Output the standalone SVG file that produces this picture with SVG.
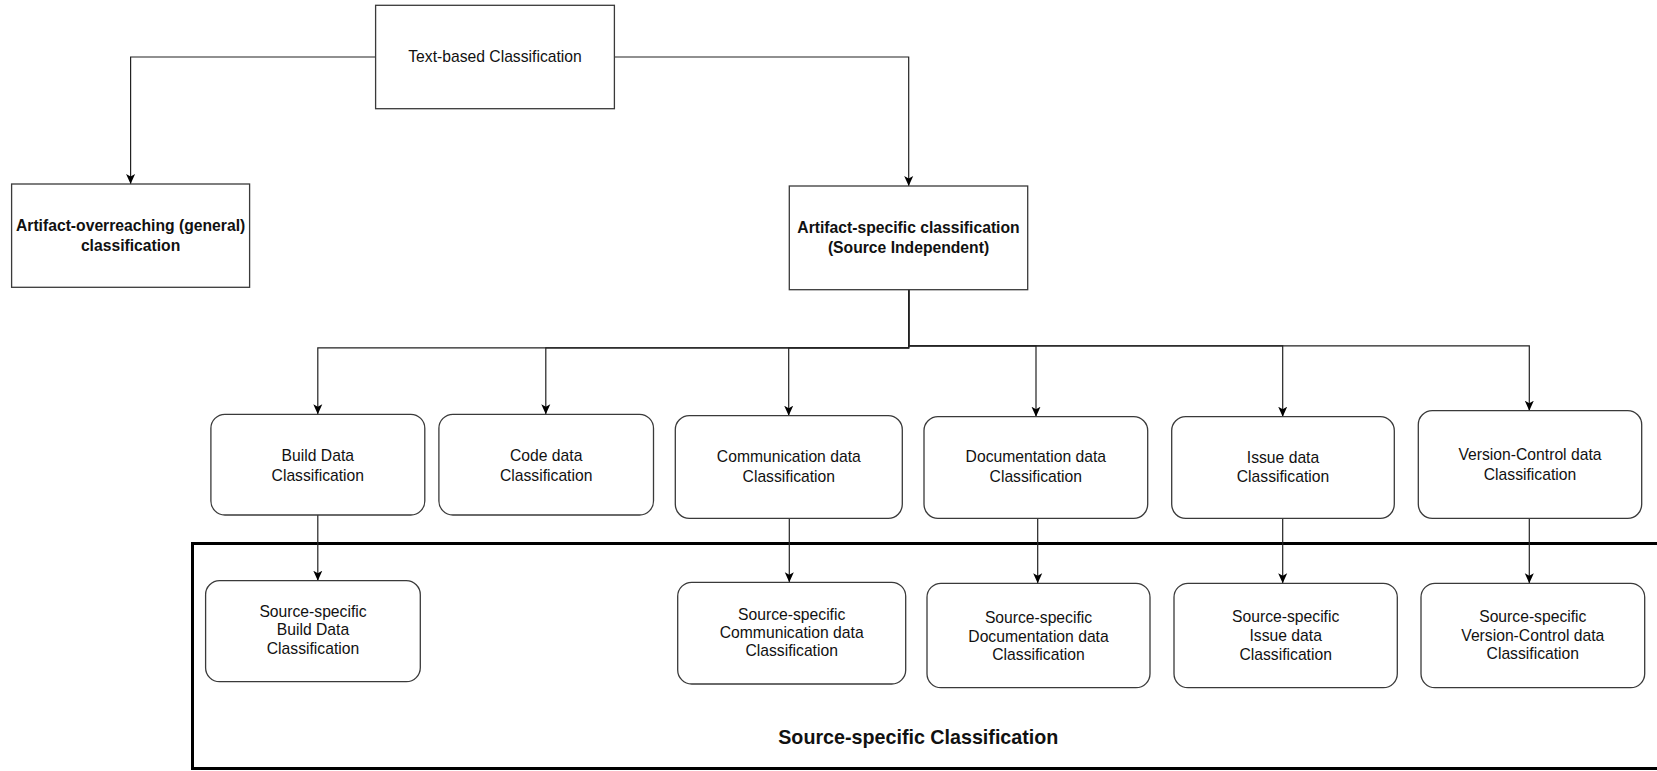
<svg xmlns="http://www.w3.org/2000/svg" width="1657" height="771" viewBox="0 0 1657 771">
<defs>
<style>
.box{fill:#fff;stroke:#3a3a3a;stroke-width:1.3}
.rbox{fill:#fff;stroke:#3a3a3a;stroke-width:1.3}
.t{font-family:"Liberation Sans",Arial,Helvetica,sans-serif;font-size:15.7px;fill:#111;text-anchor:middle}
.b{font-weight:bold}
.edge{fill:none;stroke:#222;stroke-width:1.2}
.container{fill:none;stroke:#000;stroke-width:3}
</style>
<marker id="arr" viewBox="0 0 10 10" markerUnits="userSpaceOnUse" markerWidth="10" markerHeight="10" refX="10" refY="5" orient="auto">
<path d="M0,0.5 L10,5 L0,9.5 L2.5,5 Z" fill="#000"/>
</marker>
</defs>

<g id="source-specific-container">
<rect class="container" x="192.5" y="543.5" width="1520" height="225"/>
<text class="t b" x="918.3" y="743.7" style="font-size:19.7px">Source-specific Classification</text>
</g>

<g id="connectors">
<path class="edge" d="M375.6,57 H130.6 V184" marker-end="url(#arr)"/>
<path class="edge" d="M614.4,57 H908.7 V186" marker-end="url(#arr)"/>
<path class="edge" d="M908.7,289.7 V347.8 H317.8 V414.3" marker-end="url(#arr)"/>
<path class="edge" d="M908.7,289.7 V347.8 H545.8 V414.3" marker-end="url(#arr)"/>
<path class="edge" d="M908.7,289.7 V347.8 H788.7 V415.7" marker-end="url(#arr)"/>
<path class="edge" d="M908.7,289.7 V345.8 H1036 V416.7" marker-end="url(#arr)"/>
<path class="edge" d="M908.7,289.7 V345.8 H1282.7 V416.7" marker-end="url(#arr)"/>
<path class="edge" d="M908.7,289.7 V345.8 H1529.3 V410.7" marker-end="url(#arr)"/>
<path class="edge" d="M317.8,515 V580.7" marker-end="url(#arr)"/>
<path class="edge" d="M789.3,518.3 V582.3" marker-end="url(#arr)"/>
<path class="edge" d="M1037.7,518.3 V583.3" marker-end="url(#arr)"/>
<path class="edge" d="M1282.7,518.3 V583.3" marker-end="url(#arr)"/>
<path class="edge" d="M1529.3,518.3 V583.3" marker-end="url(#arr)"/>
</g>

<g id="text-based">
<rect class="box" x="375.6" y="5.3" width="238.8" height="103.4"/>
<text class="t" x="495" y="61.5">Text-based Classification</text>
</g>

<g id="artifact-overreaching">
<rect class="box" x="11.6" y="184" width="238" height="103.3"/>
<text class="t b" x="130.6" y="231.3">Artifact-overreaching (general)</text>
<text class="t b" x="130.6" y="250.6">classification</text>
</g>

<g id="artifact-specific">
<rect class="box" x="789.3" y="186" width="238.4" height="103.7"/>
<text class="t b" x="908.5" y="232.7">Artifact-specific classification</text>
<text class="t b" x="908.5" y="252.9">(Source Independent)</text>
</g>

<g id="build-data">
<rect class="rbox" x="210.9" y="414.3" width="213.9" height="100.7" rx="14"/>
<text class="t" x="317.8" y="460.5">Build Data</text>
<text class="t" x="317.8" y="480.5">Classification</text>
</g>

<g id="code-data">
<rect class="rbox" x="438.9" y="414.3" width="214.6" height="100.7" rx="14"/>
<text class="t" x="546.2" y="460.5">Code data</text>
<text class="t" x="546.2" y="480.5">Classification</text>
</g>

<g id="communication-data">
<rect class="rbox" x="675.3" y="415.7" width="227" height="102.6" rx="14"/>
<text class="t" x="788.8" y="462.2">Communication data</text>
<text class="t" x="788.8" y="482.2">Classification</text>
</g>

<g id="documentation-data">
<rect class="rbox" x="924" y="416.7" width="223.7" height="101.6" rx="14"/>
<text class="t" x="1035.8" y="462.2">Documentation data</text>
<text class="t" x="1035.8" y="482.2">Classification</text>
</g>

<g id="issue-data">
<rect class="rbox" x="1171.7" y="416.7" width="222.6" height="101.6" rx="14"/>
<text class="t" x="1283" y="462.5">Issue data</text>
<text class="t" x="1283" y="482">Classification</text>
</g>

<g id="version-control-data">
<rect class="rbox" x="1418.3" y="410.7" width="223.4" height="107.6" rx="14"/>
<text class="t" x="1530" y="459.5">Version-Control data</text>
<text class="t" x="1530" y="479.5">Classification</text>
</g>

<g id="ss-build">
<rect class="rbox" x="205.6" y="580.7" width="214.7" height="101" rx="14"/>
<text class="t" x="313" y="616.5">Source-specific</text>
<text class="t" x="313" y="635.3">Build Data</text>
<text class="t" x="313" y="654">Classification</text>
</g>

<g id="ss-communication">
<rect class="rbox" x="677.7" y="582.3" width="228" height="101.7" rx="14"/>
<text class="t" x="791.7" y="619.5">Source-specific</text>
<text class="t" x="791.7" y="638.2">Communication data</text>
<text class="t" x="791.7" y="656.2">Classification</text>
</g>

<g id="ss-documentation">
<rect class="rbox" x="927" y="583.3" width="223" height="104.4" rx="14"/>
<text class="t" x="1038.5" y="622.8">Source-specific</text>
<text class="t" x="1038.5" y="641.5">Documentation data</text>
<text class="t" x="1038.5" y="660.2">Classification</text>
</g>

<g id="ss-issue">
<rect class="rbox" x="1174" y="583.3" width="223.3" height="104.4" rx="14"/>
<text class="t" x="1285.7" y="622.2">Source-specific</text>
<text class="t" x="1285.7" y="641.2">Issue data</text>
<text class="t" x="1285.7" y="659.8">Classification</text>
</g>

<g id="ss-version-control">
<rect class="rbox" x="1421" y="583.3" width="223.7" height="104.4" rx="14"/>
<text class="t" x="1532.8" y="621.5">Source-specific</text>
<text class="t" x="1532.8" y="640.5">Version-Control data</text>
<text class="t" x="1532.8" y="658.8">Classification</text>
</g>
</svg>
